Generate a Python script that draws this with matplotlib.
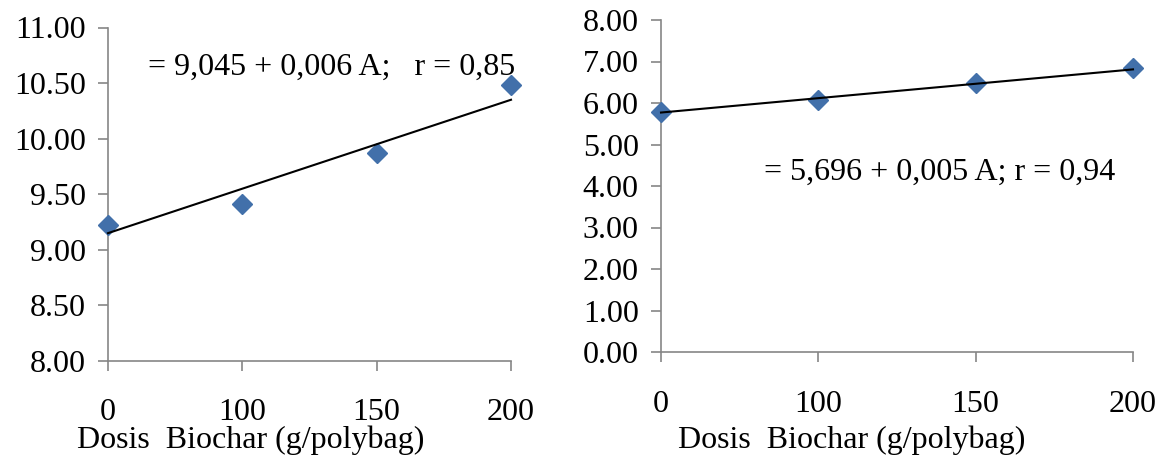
import numpy as np
from matplotlib import pyplot as plt

# data
doses = ['0', '100', '150', '200']
left_values = [9.22, 9.41, 9.87, 10.48]
right_values = [5.78, 6.08, 6.48, 6.85]
# trendline values at the first and last dose, as drawn in the reference
left_trend = [9.15, 10.35]
right_trend = [5.77, 6.81]
left_ticks = [8.0, 8.5, 9.0, 9.5, 10.0, 10.5, 11.0]
right_ticks = [0, 1, 2, 3, 4, 5, 6, 7, 8]
left_eq = '= 9,045 + 0,006 A;   r = 0,85'
right_eq = '= 5,696 + 0,005 A; r = 0,94'
xlabel = 'Dosis  Biochar (g/polybag)'

plt.rcParams['font.family'] = ['Liberation Serif', 'DejaVu Serif']
W, H = 1162, 459
fig = plt.figure(figsize=(W / 100, H / 100), dpi=100)

marker_color = '#4270AA'
spine_color = '#868686'
fs = 23


def draw_panel(rect, values, trend, yticks, eq, eq_pos, xlab_pos):
    ax = fig.add_axes(rect)
    pos = np.arange(len(doses))
    ax.plot(pos, values, linestyle='none', marker='D', markersize=10,
            color=marker_color, zorder=3)
    ax.plot(pos[[0, -1]], trend, color='black', lw=1.5, zorder=4)

    ax.set_xlim(0, len(doses) - 1)
    ax.set_ylim(yticks[0], yticks[-1])
    ax.set_xticks(pos)
    ax.set_xticklabels(doses)
    ax.set_yticks(yticks)
    ax.set_yticklabels(['%.2f' % t for t in yticks])
    for s in ['top', 'right']:
        ax.spines[s].set_visible(False)
    for s in ['left', 'bottom']:
        ax.spines[s].set_color(spine_color)
        ax.spines[s].set_linewidth(1.2)
        ax.spines[s].set_clip_on(False)
    ax.tick_params(axis='y', direction='out', length=7, width=1.2,
                   color=spine_color, labelsize=fs, pad=9)
    ax.tick_params(axis='x', direction='out', length=7, width=1.2,
                   color=spine_color, labelsize=fs, pad=20)
    for line in ax.lines:
        line.set_clip_on(False)

    fig.text(eq_pos[0] / W, 1 - eq_pos[1] / H, eq, fontsize=23,
             ha='left', va='center')
    fig.text(xlab_pos[0] / W, 1 - xlab_pos[1] / H, xlabel, fontsize=fs,
             ha='center', va='center')
    return ax


draw_panel([108 / W, 1 - 361 / H, 403 / W, 333.5 / H], left_values, left_trend,
           left_ticks, left_eq, (148, 67), (251, 440))
draw_panel([661 / W, 1 - 352 / H, 472 / W, 332 / H], right_values, right_trend,
           right_ticks, right_eq, (764, 172), (852, 440))

fig.savefig('out.png', dpi=100)
